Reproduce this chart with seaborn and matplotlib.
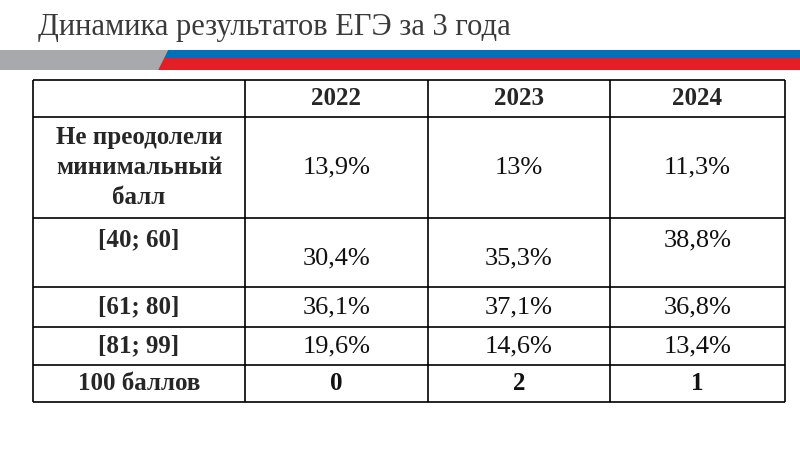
import matplotlib.pyplot as plt
import seaborn as sns
from matplotlib.patches import Polygon

sns.set_style("white")
plt.rcParams['font.family'] = ['Liberation Serif', 'DejaVu Serif']

title = "Динамика результатов ЕГЭ за 3 года"
years = ["2022", "2023", "2024"]
row_labels = ["Не преодолели\nминимальный\nбалл", "[40; 60]", "[61; 80]", "[81; 99]", "100 баллов"]
row_values = [
    ["13,9%", "13%", "11,3%"],
    ["30,4%", "35,3%", "38,8%"],
    ["36,1%", "37,1%", "36,8%"],
    ["19,6%", "14,6%", "13,4%"],
    ["0", "2", "1"],
]

col_edges = [33, 245, 428, 610, 785]
row_edges = [80, 117, 218, 287, 327, 365, 402]

fig = plt.figure(figsize=(8, 4.5), dpi=100)
ax = fig.add_axes([0, 0, 1, 1])
ax.set_xlim(0, 800)
ax.set_ylim(450, 0)
ax.axis("off")

ax.text(38, 27, title, fontsize=22, color="#3a3a3a", va="center", ha="left")
ax.add_patch(Polygon([(0, 50), (168, 50), (158, 70), (0, 70)], color="#a7a9ac", lw=0))
ax.add_patch(Polygon([(168, 50), (800, 50), (800, 58), (164, 58)], color="#0070ba", lw=0))
ax.add_patch(Polygon([(164, 58), (800, 58), (800, 70), (158, 70)], color="#e31e24", lw=0))

ax.hlines(row_edges, col_edges[0], col_edges[-1], color="black", lw=1.2)
ax.vlines(col_edges, row_edges[0], row_edges[-1], color="black", lw=1.2)

def cx(i):
    return (col_edges[i] + col_edges[i + 1]) / 2

def cy(j):
    return (row_edges[j] + row_edges[j + 1]) / 2

for i, y in enumerate(years):
    ax.text(cx(i + 1), cy(0), y, ha="center", va="center", fontsize=18, weight="bold")

for j, (lab, vals) in enumerate(zip(row_labels, row_values)):
    r = j + 1
    ylab = cy(r)
    if r == 2:
        ylab = row_edges[r] + 22
    ax.text(cx(0), ylab, lab, ha="center", va="center", fontsize=18, weight="bold",
            linespacing=1.4)
    for i, v in enumerate(vals):
        yv = cy(r)
        if r == 2:
            yv = row_edges[r] + (22 if i == 2 else 40)
        ax.text(cx(i + 1), yv, v, ha="center", va="center",
                fontsize=18 if r == 5 else 19, color="#111111",
                weight="bold" if r == 5 else "normal")

fig.savefig("out.png", dpi=100)
